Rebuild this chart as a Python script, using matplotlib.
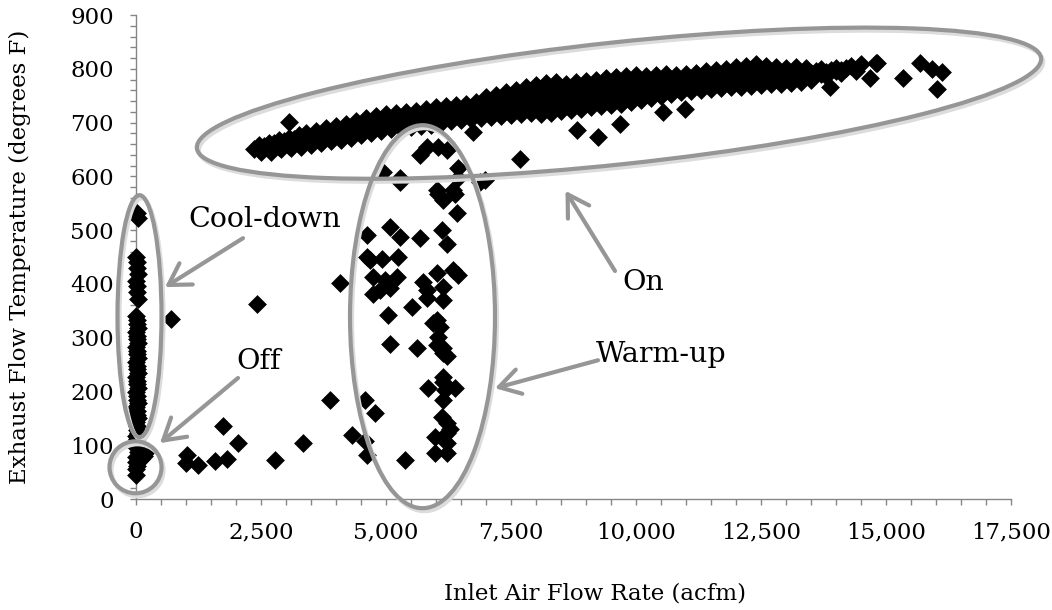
import numpy as np
import matplotlib.pyplot as plt
from matplotlib.patches import Ellipse
from matplotlib.transforms import Affine2D, ScaledTranslation
from matplotlib.ticker import MultipleLocator, FuncFormatter

plt.rcParams['font.family'] = ['DejaVu Serif']

# ---- data ----
# cool-down column, flow ~ 0
cool_x = [10, 30, 0, 20, 10, 30, 0, 20, 10, 30, 0, 20, 10, 30, 0, 20, 10, 30, 0, 20, 10,
          30, 0, 20, 10, 30, 0, 20, 10, 30, 0, 20, 10, 30, 0, 20, 10, 30, 0, 20, 10, 30]
cool_y = [531, 522, 450, 441, 430, 418, 406, 396, 384, 372, 340, 333, 326, 318, 311, 304, 297, 290, 283, 276, 269,
          262, 255, 248, 241, 234, 227, 220, 213, 206, 199, 192, 185, 178, 171, 164, 157, 150, 143, 136, 129, 122]

# off blob
off_x = [0, 0, 20, 0, 50, 100, 0, 150, 80, 170, 30, 120, 0, 60, 0, 20, 0]
off_y = [45, 55, 62, 68, 70, 74, 78, 80, 84, 86, 88, 92, 96, 100, 106, 112, 118]

# scattered low points
low_x = [693, 2413, 1733, 2047, 1013, 1000, 1247, 1580, 1813, 2780, 3333, 3880, 4313, 4080]
low_y = [334, 362, 136, 104, 82, 67, 63, 71, 74, 72, 105, 184, 119, 401]

# warm-up
warm_x = [4613, 5080, 5280, 5680, 6113, 6213, 4613, 4680, 4913, 5247,
          4747, 4980, 5213, 5747, 6013, 6347, 6447, 6147, 4880,
          4747, 5080, 5513, 5813, 6147, 5820, 5047, 6013, 6080, 6047, 5080,
          5613, 6147, 6213, 6140, 5940, 6140, 5847, 6147, 6380, 6147,
          6113, 6213, 6213, 6213, 6213, 5980, 5980, 6280, 4580, 4780,
          4580, 4613, 5380, 6047, 6380, 6413, 6140, 5280, 6880, 4947,
          5280, 6447, 6447, 6980, 6013, 6347, 5680, 6047, 6213, 5813, 6180, 6020]
warm_y = [491, 506, 488, 485, 500, 475, 450, 444, 447, 450,
          413, 407, 413, 404, 420, 426, 416, 395, 389,
          382, 392, 357, 373, 370, 388, 342, 333, 320, 302, 289,
          280, 280, 265, 227, 327, 271, 206, 218, 206, 184,
          153, 141, 122, 104, 85, 116, 85, 130, 184, 159,
          107, 82, 72, 568, 568, 531, 556, 590, 590, 608,
          596, 615, 596, 593, 574, 574, 640, 655, 649, 655, 203, 286]

# on band: several overlapping tracks + stragglers
up_x = [2450, 2650, 2850, 3050, 3250, 3400, 3600, 3800, 4000, 4200, 4400, 4600, 4800, 5000, 5200, 5400,
        5600, 5800, 6000, 6200, 6400, 6600, 6800, 7000, 7200, 7400, 7600, 7800, 8000, 8200, 8400,
        8600, 8800, 9000, 9200, 9400, 9600, 9800, 10000, 10200, 10400, 10600, 10800, 11000, 11200,
        11400, 11600, 11800, 12000, 12200, 12400, 12600, 12800, 13000, 13200, 13400, 13700, 14000,
        14300, 14500, 14800]
up_y = [658, 662, 668, 672, 676, 680, 684, 690, 694, 698, 702, 708, 712, 715, 718, 720,
        722, 726, 728, 730, 732, 734, 738, 748, 752, 756, 760, 766, 770, 774, 776,
        772, 776, 778, 780, 782, 784, 786, 788, 786, 788, 790, 788, 790, 792,
        796, 798, 800, 804, 806, 808, 806, 804, 802, 804, 802, 800, 802,
        806, 808, 810]
um_x = [2550, 2750, 2950, 3150, 3350, 3550, 3750, 3950, 4150, 4350, 4550, 4750, 4950, 5150, 5350,
        5550, 5750, 5950, 6150, 6350, 6550, 6750, 6950, 7150, 7350, 7550, 7750, 7950, 8150, 8350,
        8550, 8750, 8950, 9150, 9350, 9550, 9750, 9950, 10150, 10350, 10550, 10750, 10950, 11150,
        11350, 11550, 11750, 11950, 12150, 12350, 12550, 12750, 12950, 13150, 13350, 13600, 13900,
        14200]
um_y = [657, 662, 666, 670, 674, 678, 683, 687, 691, 695, 700, 705, 708, 711, 713,
        715, 719, 721, 723, 725, 727, 731, 738, 742, 745, 749, 753, 757, 760, 762,
        760, 764, 766, 768, 770, 772, 774, 776, 776, 778, 780, 780, 782, 784,
        787, 789, 791, 794, 796, 798, 797, 796, 796, 797, 796, 796, 798,
        802]
mid_x = [2350, 2600, 2800, 3000, 3200, 3400, 3600, 3800, 4000, 4200, 4400, 4600, 4800, 5000, 5200,
         5400, 5600, 5800, 6000, 6200, 6400, 6600, 6800, 7000, 7200, 7400, 7600, 7800, 8000, 8200,
         8400, 8600, 8800, 9000, 9200, 9400, 9600, 9800, 10000, 10200, 10400, 10600, 10800, 11000,
         11200, 11400, 11600, 11800, 12000, 12200, 12400, 12600, 12800, 13000, 13200, 13500, 13800,
         14100]
mid_y = [650, 655, 658, 662, 665, 668, 672, 676, 680, 684, 688, 694, 698, 702, 704,
         706, 708, 712, 714, 716, 718, 720, 724, 728, 732, 734, 738, 740, 744, 746,
         748, 748, 752, 754, 756, 758, 760, 762, 764, 766, 768, 770, 772, 774,
         776, 778, 780, 782, 784, 786, 788, 788, 788, 790, 790, 792, 794,
         798]
ml_x = [2650, 2850, 3050, 3250, 3450, 3650, 3850, 4050, 4250, 4450, 4650, 4850, 5050, 5250, 5450,
        5650, 5850, 6050, 6250, 6450, 6650, 6850, 7050, 7250, 7450, 7650, 7850, 8050, 8250, 8450,
        8650, 8850, 9050, 9250, 9450, 9650, 9850, 10050, 10250, 10450, 10650, 10850, 11050, 11250,
        11450, 11650, 11850, 12050, 12250, 12450, 12650, 12850, 13050, 13250, 13450, 13700, 14000]
ml_y = [650, 654, 657, 660, 663, 667, 671, 674, 678, 682, 687, 691, 695, 697, 699,
        701, 704, 707, 709, 711, 713, 716, 719, 722, 724, 727, 729, 730, 732, 735,
        736, 739, 741, 743, 745, 747, 750, 753, 756, 759, 762, 764, 766, 768,
        770, 772, 774, 775, 777, 779, 780, 780, 782, 783, 786, 790, 795]
low_band_x = [2500, 2700, 2900, 3100, 3300, 3500, 3700, 3900, 4100, 4300, 4500, 4700, 4900, 5100,
              5300, 5500, 5700, 5900, 6100, 6300, 6500, 6700, 6900, 7100, 7300, 7500, 7700, 7900,
              8100, 8300, 8500, 8700, 8900, 9100, 9300, 9500, 9700, 9900, 10100, 10300, 10500,
              10700, 10900, 11100, 11300, 11500, 11700, 11900, 12100, 12300, 12500, 12700, 12900,
              13100, 13300, 13500, 13800, 14100, 14400]
low_band_y = [645, 646, 650, 652, 655, 658, 662, 666, 668, 672, 676, 680, 684, 688,
              690, 692, 694, 696, 700, 702, 704, 706, 708, 710, 712, 714, 716, 718,
              716, 718, 722, 724, 726, 728, 730, 732, 734, 738, 742, 746, 750,
              754, 756, 758, 760, 762, 764, 766, 766, 768, 770, 772, 772,
              774, 776, 780, 786, 792, 796]
odd_x = [3050, 7680, 8813, 9247, 9680, 10547, 10980, 6747, 14813, 14680, 15347, 15680, 15913, 16113, 16013, 13880]
odd_y = [701, 633, 686, 673, 698, 720, 726, 683, 810, 782, 782, 810, 800, 794, 763, 766]

all_x = cool_x + off_x + low_x + warm_x + up_x + um_x + mid_x + ml_x + low_band_x + odd_x
all_y = cool_y + off_y + low_y + warm_y + up_y + um_y + mid_y + ml_y + low_band_y + odd_y

GREY = '#969696'
AXC = '#868686'

fig = plt.figure(figsize=(10.52, 6.10), dpi=100)
ax = fig.add_axes([136 / 1052, 111 / 610, 875 / 1052, 484 / 610])

ax.scatter(all_x, all_y, marker='D', s=92, color='black', linewidths=0, zorder=3, clip_on=False)

ax.set_xlim(0, 17500)
ax.set_ylim(0, 900)


def ring(cx, cy, w, h, angle=0):
    # centre in data units, size in pixels
    for dx, dy, col, z in [(2, -3, '#dcdcdc', 4), (0, 0, GREY, 5)]:
        tr = Affine2D().translate(dx, dy) + ScaledTranslation(cx, cy, ax.transData)
        ax.add_patch(Ellipse((0, 0), w, h, angle=angle, transform=tr, fill=False,
                             edgecolor=col, lw=3, zorder=z, clip_on=False))


ring(9660, 736, 849, 122, 6.1)    # on
ring(5730, 339, 145, 383)         # warm-up
ring(70, 340, 44, 242)            # cool-down
ring(-10, 59, 52, 52)             # off

arrow = dict(arrowstyle='->,head_length=0.75,head_width=0.45', color=GREY, lw=3,
             shrinkA=0, shrinkB=0, mutation_scale=20)
ax.annotate('', xy=(580, 394), xytext=(2140, 485), arrowprops=arrow, zorder=6, annotation_clip=False)
ax.annotate('', xy=(480, 104), xytext=(2040, 225), arrowprops=arrow, zorder=6, annotation_clip=False)
ax.annotate('', xy=(8590, 573), xytext=(9580, 424), arrowprops=arrow, zorder=6, annotation_clip=False)
ax.annotate('', xy=(7180, 206), xytext=(9240, 258), arrowprops=arrow, zorder=6, annotation_clip=False)

ax.text(2580, 519, 'Cool-down', fontsize=20.5, ha='center', va='center')
ax.text(2460, 255, 'Off', fontsize=20.5, ha='center', va='center')
ax.text(10140, 403, 'On', fontsize=20.5, ha='center', va='center')
ax.text(10500, 268, 'Warm-up', fontsize=20.5, ha='center', va='center')

ax.xaxis.set_major_locator(MultipleLocator(2500))
ax.xaxis.set_minor_locator(MultipleLocator(500))
ax.yaxis.set_major_locator(MultipleLocator(100))
ax.yaxis.set_minor_locator(MultipleLocator(20))
ax.xaxis.set_major_formatter(FuncFormatter(lambda v, p: f'{v:,.0f}'))

for s in ['top', 'right']:
    ax.spines[s].set_visible(False)
for s in ['left', 'bottom']:
    ax.spines[s].set_color(AXC)
    ax.spines[s].set_linewidth(1)
ax.tick_params(which='both', direction='out', length=4, width=1, color=AXC,
               labelsize=16.5, pad=12)

ax.set_xlabel('Inlet Air Flow Rate (acfm)', fontsize=16.5, va='center')
ax.xaxis.set_label_coords(0.525, -0.196)
ax.set_ylabel('Exhaust Flow Temperature (degrees F)', fontsize=16.5, va='center')
ax.yaxis.set_label_coords(-0.1326, 0.5)

fig.savefig('out.png', dpi=100)
